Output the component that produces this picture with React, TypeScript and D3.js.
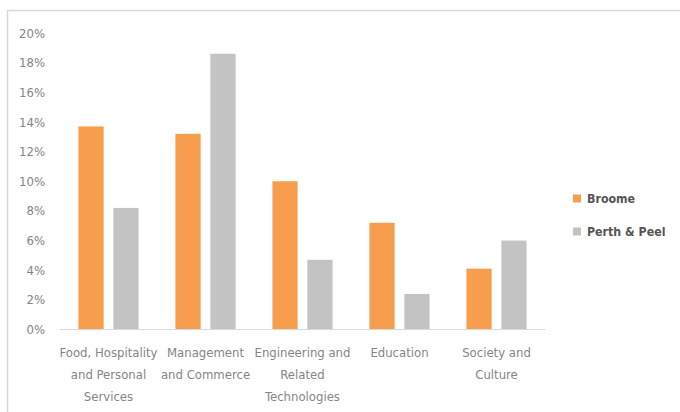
import React from "react";
import * as d3 from "d3";

// Share of field of study, by region
const categories: string[][] = [
  ["Food, Hospitality", "and Personal", "Services"],
  ["Management", "and Commerce"],
  ["Engineering and", "Related", "Technologies"],
  ["Education"],
  ["Society and", "Culture"],
];
const seriesNames = ["Broome", "Perth & Peel"];
const broome = [13.7, 13.2, 10.0, 7.2, 4.1];
const perthPeel = [8.2, 18.6, 4.7, 2.4, 6.0];
const yTicks = [0, 2, 4, 6, 8, 10, 12, 14, 16, 18, 20];
const colors = ["#f79d4e", "#c3c3c3"];

const W = 680;
const H = 412;
const FONT = "'Liberation Sans Narrow', 'DejaVu Sans Condensed', 'Liberation Sans', sans-serif";

export default function App() {
  const plot = { left: 60, right: 545, top: 33, bottom: 329.5 };
  const keys = categories.map((_, i) => String(i));
  const x = d3.scaleBand<string>().domain(keys).range([plot.left, plot.right]);
  const y = d3.scaleLinear().domain([0, 20]).range([plot.bottom, plot.top]);
  const bw = x.bandwidth();
  const barW = bw * 0.26;
  const gap = bw * 0.1;
  const series = [broome, perthPeel];

  return (
    <svg
      width={W}
      height={H}
      style={{ position: "absolute", left: 0, top: 0, background: "#fff" }}
      fontFamily={FONT}
    >
      <rect x={0} y={0} width={W} height={H} fill="#fff" />
      {/* chart frame */}
      <line x1={7} x2={W} y1={10.5} y2={10.5} stroke="#d9d9d9" strokeWidth={1.5} />
      <line x1={7.5} x2={7.5} y1={10} y2={H} stroke="#d9d9d9" strokeWidth={1.5} />

      {/* y axis labels */}
      {yTicks.map((t) => (
        <text
          key={t}
          x={45}
          y={y(t)}
          dy="0.35em"
          textAnchor="end"
          fontSize={13}
          fill="#858585"
        >
          {`${t}%`}
        </text>
      ))}

      {/* bars */}
      {keys.map((k, i) => {
        const cx = (x(k) as number) + bw / 2;
        return series.map((s, j) => {
          const bx = j === 0 ? cx - gap / 2 - barW : cx + gap / 2;
          return (
            <rect
              key={`${i}-${j}`}
              x={bx}
              y={y(s[i])}
              width={barW}
              height={y(0) - y(s[i])}
              fill={colors[j]}
            />
          );
        });
      })}

      {/* baseline */}
      <line x1={plot.left} x2={plot.right} y1={plot.bottom} y2={plot.bottom} stroke="#d9d9d9" strokeWidth={1} />

      {/* category labels */}
      {keys.map((k, i) => {
        const cx = (x(k) as number) + bw / 2;
        return categories[i].map((line, li) => (
          <text
            key={`${i}-${li}`}
            x={cx}
            y={352 + li * 22}
            dy="0.35em"
            textAnchor="middle"
            fontSize={13}
            fill="#858585"
          >
            {line}
          </text>
        ));
      })}

      {/* legend */}
      {seriesNames.map((name, j) => {
        const ly = 199 + j * 33;
        return (
          <g key={name}>
            <rect x={573} y={ly - 4.5} width={8} height={8} fill={colors[j]} />
            <text x={587} y={ly} dy="0.35em" fontSize={12.3} fontWeight="bold" fill="#555555">
              {name}
            </text>
          </g>
        );
      })}
    </svg>
  );
}
